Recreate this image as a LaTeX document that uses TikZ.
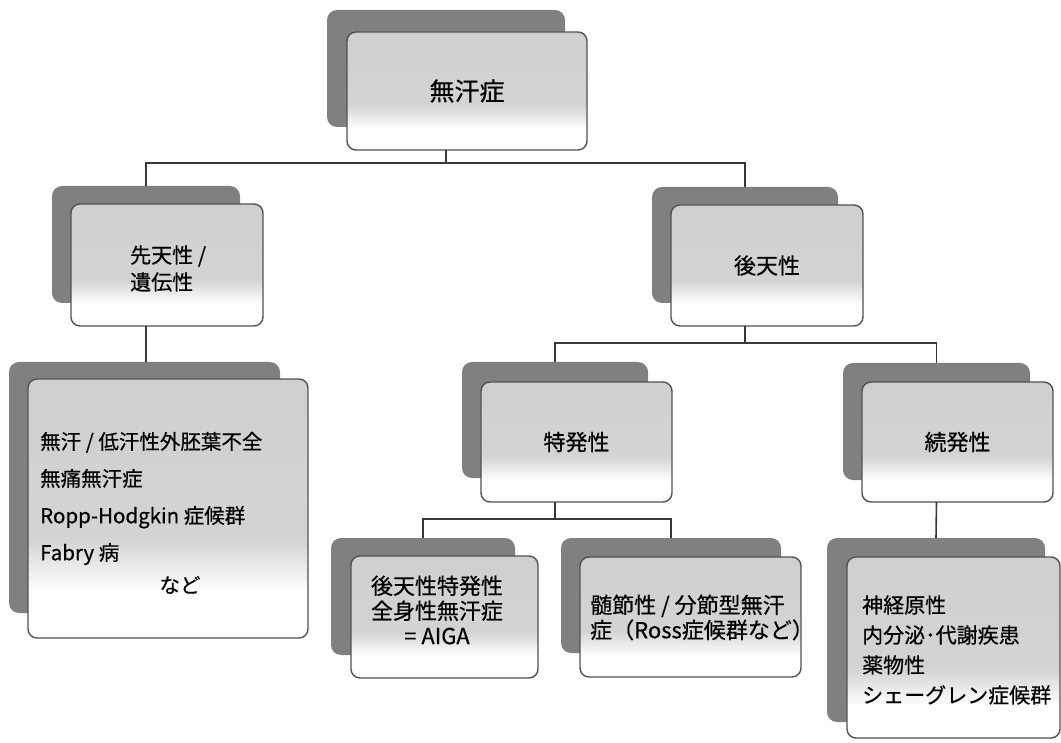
\documentclass[tikz,border=0pt]{standalone}
\usepackage{fontspec}
\setmainfont{Noto Sans CJK JP}[FakeBold=0.5]
\pgfdeclareverticalshading{frontshade}{100bp}{color(0bp)=(white); color(34bp)=(white); color(44bp)=(black!17); color(100bp)=(black!20)}
\tikzset{
  backbox/.style={fill=black!50, draw=none, rounded corners=10pt, inner sep=0pt, outer sep=0pt},
  frontbox/.style={draw=black!68, line width=1.4pt, rounded corners=9pt, shading=frontshade, inner sep=0pt, outer sep=0pt, text=black},
  conn/.style={draw=black!78, line width=1.6pt},
  lbl/.style={inner sep=0pt, text=black},
}
\newcommand{\fs}[2]{\fontsize{#1pt}{#2pt}\selectfont}
\begin{document}
\begin{tikzpicture}[x=1pt,y=-1pt]
\fill[white] (0,0) rectangle (1061,743);
\useasboundingbox (0,0) rectangle (1061,743);

% root
\node[backbox, minimum width=238pt, minimum height=117pt] (rootB) at (446,68.5) {};
\node[frontbox, minimum width=240pt, minimum height=118pt, font=\fs{25}{30}] (root) at (467,91) {無汗症};

% congenital
\node[backbox, minimum width=188pt, minimum height=117pt] (congB) at (146,244.5) {};
\node[frontbox, minimum width=192pt, minimum height=122pt] (cong) at (167,265) {};
\node[lbl, anchor=west, align=left, font=\fs{21}{27}] (congT) at (130,268.5) {先天性 /\\遺伝性};

% acquired
\node[backbox, minimum width=186pt, minimum height=116pt] (acqB) at (745,245) {};
\node[frontbox, minimum width=192pt, minimum height=121pt, font=\fs{22}{26}] (acq) at (767,265.5) {後天性};

% congenital list
\node[backbox, minimum width=271pt, minimum height=251pt] (congListB) at (144.5,487.5) {};
\node[frontbox, minimum width=280pt, minimum height=259pt] (congList) at (168,508.5) {};
\node[lbl, anchor=west, align=left, font=\fs{20.5}{37}] (congListT) at (40,498.5) {無汗 / 低汗性外胚葉不全\\無痛無汗症\\Ropp-Hodgkin 症候群\\Fabry 病};
\node[lbl, font=\fs{20.5}{24}] (congListN) at (180,585) {など};

% idiopathic
\node[backbox, minimum width=186pt, minimum height=116pt] (idioB) at (555,420) {};
\node[frontbox, minimum width=191pt, minimum height=120pt, font=\fs{22}{26}] (idio) at (576.5,442) {特発性};

% secondary
\node[backbox, minimum width=187pt, minimum height=117pt] (secB) at (936.5,421.5) {};
\node[frontbox, minimum width=191pt, minimum height=120pt, font=\fs{22}{26}] (sec) at (957.5,442) {続発性};

% AIGA
\node[backbox, minimum width=184pt, minimum height=117pt] (aigaB) at (423,596.5) {};
\node[frontbox, minimum width=187pt, minimum height=122pt] (aiga) at (444.5,617) {};
\node[lbl, align=center, font=\fs{22}{25}] (aigaT) at (437,610) {後天性特発性\\全身性無汗症\\= AIGA};

% Ross
\node[backbox, minimum width=220pt, minimum height=115pt] (rossB) at (671,595.5) {};
\node[frontbox, minimum width=221pt, minimum height=120pt] (ross) at (690.5,617) {};
\node[lbl, anchor=west, align=left, font=\fs{22}{25}] (rossT) at (590,617.5) {髄節性 / 分節型無汗\\症（Ross症候群など）};

% secondary list
\node[backbox, minimum width=218pt, minimum height=184pt] (secListB) at (936,630) {};
\node[frontbox, minimum width=213pt, minimum height=181pt] (secList) at (953.5,647.5) {};
\node[lbl, anchor=west, align=left, font=\fs{21}{30}] (secListT) at (862,650) {神経原性\\内分泌･代謝疾患\\薬物性\\シェーグレン症候群};

% connectors
\coordinate (h1) at (0,163);
\coordinate (h2) at (0,343);
\coordinate (h3) at (0,519);
\draw[conn] (rootB.center |- root.south) -- (rootB.center |- h1);
\draw[conn] (congB.north) -- (congB.north |- h1) -- (acqB.north |- h1) -- (acqB.north);
\draw[conn] (congB.center |- cong.south) -- (congB.center |- congListB.north);
\draw[conn] (acqB.center |- acq.south) -- (acqB.center |- h2);
\draw[conn] (idioB.north) -- (idioB.north |- h2) -- (secB.north |- h2) -- (secB.north);
\draw[conn] (idioB.center |- idio.south) -- (idioB.center |- h3);
\draw[conn] (aigaB.north) -- (aigaB.north |- h3) -- (rossB.north |- h3) -- (rossB.north);
\draw[conn] (secB.center |- sec.south) -- (secListB.north);
\end{tikzpicture}
\end{document}
